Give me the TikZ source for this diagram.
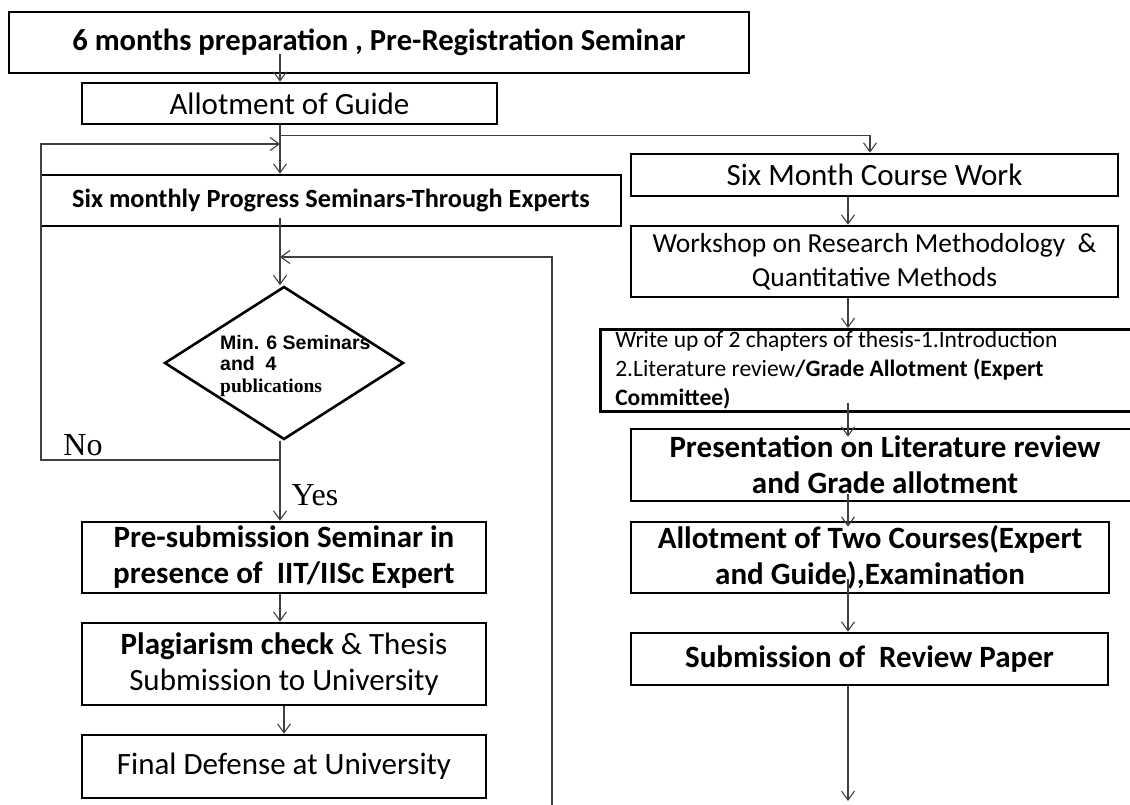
\documentclass[tikz,border=0pt]{standalone}
\usepackage{fontspec}
\setmainfont{Carlito}
\newfontfamily\arialfont{Liberation Sans}
\newfontfamily\timesfont{Liberation Serif}
\usetikzlibrary{shapes.geometric,arrows.meta,calc}

\tikzset{
  flowbox/.style={draw, line width=2.6pt, align=center, inner sep=0pt},
  flowarrow/.style={draw=black!75, line width=1.1pt, -{Straight Barb[length=9pt,width=13pt,line width=1.1pt]}},
  bigbold/.style={font=\fontsize{31}{36}\selectfont\bfseries},
  bigplain/.style={font=\fontsize{31}{36}\selectfont},
  answer/.style={font=\fontsize{32}{36}\timesfont},
}

\begin{document}
\begin{tikzpicture}[x=1pt,y=-1pt]
        \useasboundingbox (0,0) rectangle (1130,804);
        \clip (0,0) rectangle (1130,804);

        % Guide lines of the two columns
        \coordinate (lx) at (280,0);
        \coordinate (rx) at (848,0);
        \coordinate (bx) at (870,0);

        % Left column
        \node[flowbox, font=\fontsize{30.6}{36}\selectfont\bfseries, minimum width=740pt, minimum height=61pt] (prep) at (379,42.5) {6 months preparation , Pre-Registration Seminar};
        \node[flowbox, bigplain, minimum width=415pt, minimum height=41pt] (guide) at (289.5,103.5) {Allotment of Guide};
        \node[flowbox, font=\fontsize{26.3}{30}\selectfont\bfseries, minimum width=580pt, minimum height=51pt] (progress) at (331,200.5) {Six monthly Progress Seminars-Through Experts};
        \node[draw, diamond, line width=2.6pt, minimum width=239pt, minimum height=153pt, inner sep=0pt] (check) at (284,363) {};
        \node[align=flush left, anchor=west, inner sep=0pt, font=\fontsize{19.5}{21.5}\selectfont] (checktext) at (220,366) {{\arialfont\bfseries Min. 6 Seminars}\\{\arialfont\bfseries and\ \ 4}\\{\timesfont\bfseries publications}};
        \node[flowbox, bigbold, minimum width=404pt, minimum height=71pt] (presub) at (284,557.5) {Pre-submission Seminar in\\presence of\ \ IIT/IISc Expert};
        \node[flowbox, bigplain, minimum width=404pt, minimum height=82pt] (plag) at (284,664) {\textbf{Plagiarism check} \& Thesis\\Submission to University};
        \node[flowbox, bigplain, minimum width=404pt, minimum height=63pt] (final) at (284,766.5) {Final Defense at University};

        % Labels
        \node[answer] (no) at (83,445) {No};
        \node[answer] (yes) at (315,495) {Yes};

        % Right column
        \node[flowbox, bigplain, minimum width=487pt, minimum height=42pt] (course) at (874.5,175) {Six Month Course Work};
        \node[flowbox, font=\fontsize{27.5}{34}\selectfont, minimum width=487pt, minimum height=71pt] (workshop) at (874.5,261.5) {Workshop on Research Methodology\ \ \&\\Quantitative Methods};
        \node[flowbox, align=flush left, anchor=north west, font=\fontsize{23.5}{29}\selectfont, text width=515pt, inner xsep=15pt, inner ysep=2pt, minimum height=82pt] (writeup) at (599,328) {Write up of 2 chapters of thesis-1.Introduction\\2.Literature review\textbf{/Grade Allotment (Expert}\\\textbf{Committee)}};
        \node[flowbox, bigbold, minimum width=508pt, minimum height=72pt] (present) at (885,465) {Presentation on Literature review\\and Grade allotment};
        \node[flowbox, bigbold, minimum width=478pt, minimum height=71pt] (twocourses) at (870,557.5) {Allotment of Two Courses(Expert\\and Guide),Examination};
        \node[flowbox, bigbold, minimum width=477pt, minimum height=52pt] (review) at (869.5,659) {Submission of\ \ Review Paper};

        % Free ends
        \coordinate (loopin) at (552,810);
        \coordinate (loopturn) at (552,257);
        \coordinate (noturn) at (41,460);
        \coordinate (noback) at (41,144);
        \coordinate (outend) at (848,801);

        % Left connectors
        \draw[flowarrow] ($(prep.south -| lx)+(0,-20)$) -- (guide.north -| lx);
        \draw[flowarrow] (guide.south -| lx) -- (progress.north -| lx);
        \draw[flowarrow] ($(guide.south -| lx)+(0,10)$) -| (course.north -| bx);
        \draw[flowarrow] ($(progress.south -| lx)+(0,-9)$) -- (check.north -| lx);
        \draw[flowarrow] (check.south -| lx) |- (noturn) -- (noback) -- (noback -| lx);
        \draw[flowarrow] (loopin) -- (loopturn) -- (loopturn -| lx);
        \draw[flowarrow] (check.south -| lx) -- (presub.north -| lx);
        \draw[flowarrow] (presub.south -| lx) -- (plag.north -| lx);
        \draw[flowarrow] (plag.south) -- (final.north);

        % Right connectors
        \draw[flowarrow] (course.south -| rx) -- (workshop.north -| rx);
        \draw[flowarrow] (workshop.south -| rx) -- (writeup.north -| rx);
        \draw[flowarrow] ($(writeup.south -| rx)+(0,-10)$) -- ($(present.north -| rx)+(0,9)$);
        \draw[flowarrow] ($(present.south -| rx)+(0,-8)$) -- ($(twocourses.north -| rx)+(0,6)$);
        \draw[flowarrow] ($(twocourses.south -| rx)+(0,-15)$) -- (review.north -| rx);
        \draw[flowarrow] (review.south -| rx) -- (outend);

\end{tikzpicture}
\end{document}
